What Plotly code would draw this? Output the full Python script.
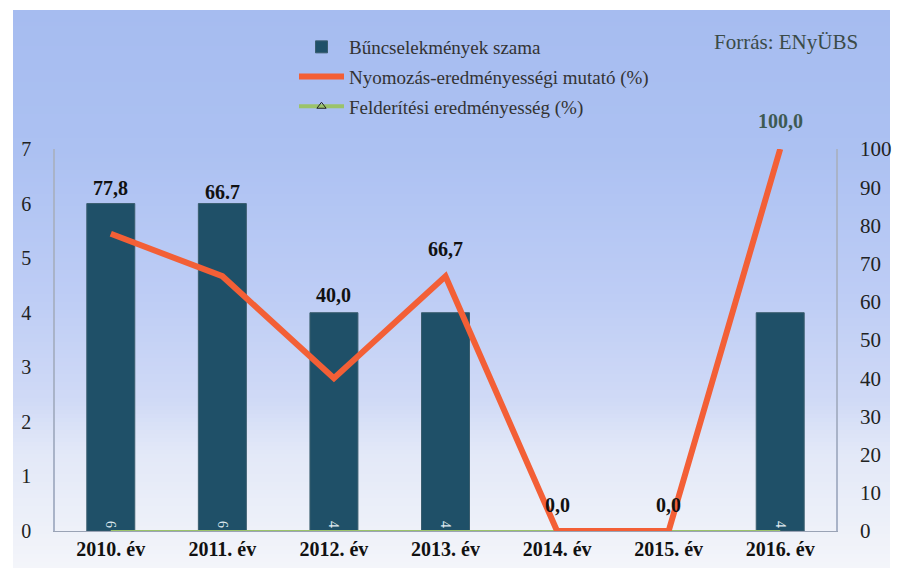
import plotly.graph_objects as go

categories = ["2010. év", "2011. év", "2012. év", "2013. év", "2014. év", "2015. év", "2016. év"]
crimes = [6, 6, 4, 4, 0, 0, 4]
investigation_pct = [77.8, 66.7, 40.0, 66.7, 0.0, 0.0, 100.0]
detection_pct = [0, 0, 0, 0, 0, 0, 0]
investigation_labels = ["77,8", "66.7", "40,0", "66,7", "0,0", "0,0", "100,0"]
left_ticks = [0, 1, 2, 3, 4, 5, 6, 7]
right_ticks = [0, 10, 20, 30, 40, 50, 60, 70, 80, 90, 100]

# style
label_shift = [46, 84, 83, 27, 26, 26, 28]
label_colors = ["#111", "#111", "#111", "#111", "#111", "#111", "#3e5a52"]
W, H = 903, 568
OFF = 8  # page body margin
SL, SR, ST, SB = 55, 836, 149, 531
L, T = SL - OFF, ST - OFF
R = W - (SR - OFF)
B = H - (SB - OFF)
pw, ph = W - L - R, H - T - B
SERIF = "Liberation Serif"

def px_x(sx):
    return (sx - SL) / pw
def px_y(sy):
    return (SB - sy) / ph

fig = go.Figure()
fig.add_trace(go.Bar(
    x=categories, y=crimes, name="Bűncselekmények szama",
    marker=dict(color="#1f5068", line=dict(color="#3a5d6e", width=1)),
    text=[str(v) if v else "" for v in crimes], textposition="inside",
    insidetextanchor="start", textangle=90,
    textfont=dict(color="#dfe9f0", size=14, family=SERIF),
    legendgroup="a", yaxis="y"))
fig.add_trace(go.Scatter(
    x=categories, y=detection_pct, name="Felderítési eredményesség (%)",
    mode="lines", line=dict(color="#9bc36a", width=2), showlegend=False,
    legendgroup="c", yaxis="y2"))
fig.add_trace(go.Scatter(
    x=categories, y=investigation_pct, name="Nyomozás-eredményességi mutató (%)",
    mode="lines", line=dict(color="#f35f36", width=6),
    legendgroup="b", yaxis="y2", cliponaxis=False))
fig.add_trace(go.Scatter(
    x=[None], y=[None], name="Felderítési eredményesség (%)",
    mode="lines+markers", line=dict(color="#9bc36a", width=4),
    marker=dict(symbol="triangle-up-open", color="#222", size=8),
    legendgroup="c", yaxis="y2", showlegend=True))

for i, (c, v) in enumerate(zip(categories, investigation_pct)):
    fig.add_annotation(x=c, y=v, yref="y2", text="<b>" + investigation_labels[i] + "</b>",
                       showarrow=False, yshift=label_shift[i],
                       font=dict(family=SERIF, size=20, color=label_colors[i]))

fig.add_annotation(x=px_x(860), y=px_y(42), xref="paper", yref="paper",
                   xanchor="right", yanchor="middle", showarrow=False,
                   text="Forrás: ENyÜBS", font=dict(family=SERIF, size=21, color="#3b4b48"))

stops = [(10, (166, 188, 240)), (150, (172, 193, 242)), (300, (190, 205, 245)),
         (400, (208, 218, 246)), (450, (226, 232, 248)), (530, (238, 241, 249)), (568, (244, 245, 250))]
def col(py):
    for (a, ca), (b, cb) in zip(stops, stops[1:]):
        if a <= py <= b:
            t = (py - a) / (b - a)
            return "rgb(%d,%d,%d)" % tuple(round(ca[k] + (cb[k] - ca[k]) * t) for k in range(3))
    return "rgb(244,245,250)"
step = 4
for py in range(10, 580, step):
    fig.add_shape(type="rect", xref="paper", yref="paper", layer="below",
                  x0=px_x(13), x1=px_x(890),
                  y0=px_y(py + step), y1=px_y(py),
                  fillcolor=col(py + step / 2), line=dict(width=0))

fig.update_layout(
    width=W, height=H, margin=dict(l=L, r=R, t=T, b=B, autoexpand=False),
    paper_bgcolor="white", plot_bgcolor="rgba(0,0,0,0)",
    bargap=0.57, showlegend=True,
    legend=dict(x=px_x(294), y=px_y(28), xref="paper", yref="paper",
                xanchor="left", yanchor="top", bgcolor="rgba(0,0,0,0)",
                font=dict(family=SERIF, size=19, color="#333"),
                tracegroupgap=2, itemwidth=45, traceorder="grouped"),
    xaxis=dict(tickfont=dict(family=SERIF, size=20, color="#111", weight="bold"),
               showline=True, linecolor="#9aa3b5", linewidth=1, ticks="",
               showgrid=False, tickangle=0),
    yaxis=dict(range=[0, 7], tickvals=left_ticks, showgrid=False, zeroline=False,
               tickfont=dict(family=SERIF, size=20, color="#222"),
               showline=True, linecolor="#a9b3c8", linewidth=1.5,
               ticklabelstandoff=18),
    yaxis2=dict(range=[0, 100], tickvals=right_ticks, overlaying="y", side="right",
                showgrid=False, zeroline=False,
                tickfont=dict(family=SERIF, size=21, color="#222"),
                showline=True, linecolor="#a9b3c8", linewidth=1.5,
                ticklabelstandoff=18),
)
fig.write_html("out.html")
